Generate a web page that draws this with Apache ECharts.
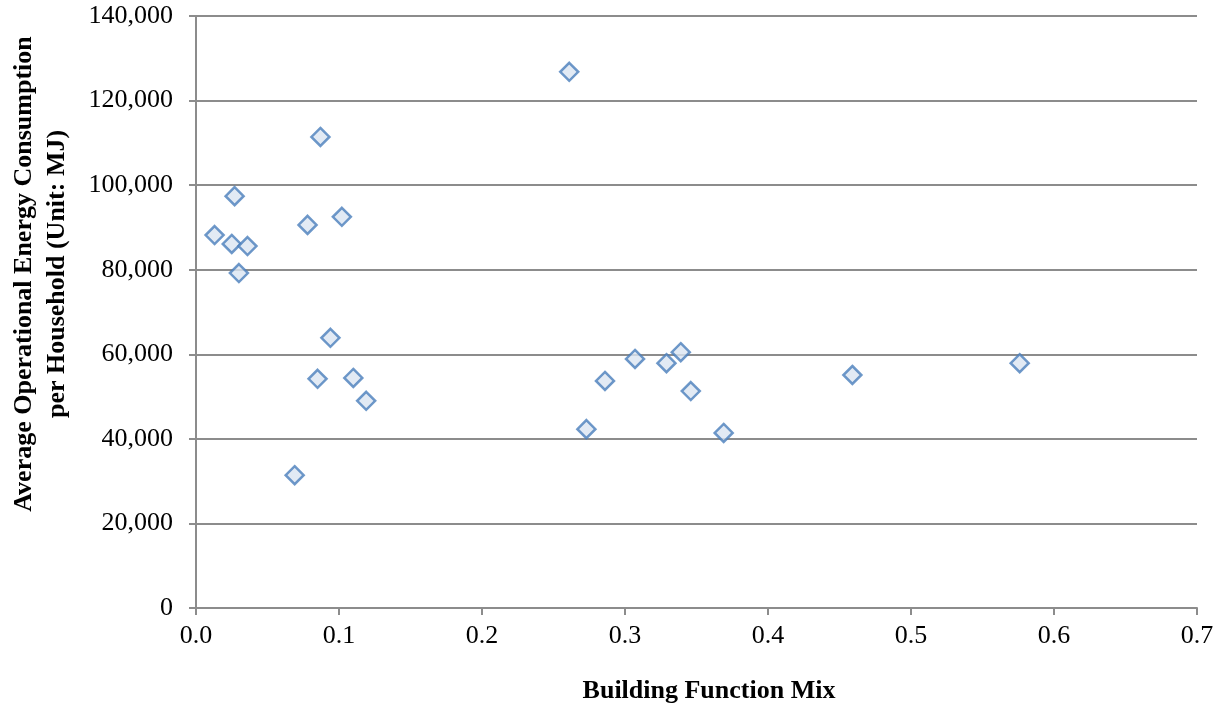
<!DOCTYPE html>
<html>
<head>
<meta charset="utf-8">
<script src="https://cdn.jsdelivr.net/npm/echarts@6/dist/echarts.min.js"></script>
<style>
  html, body { margin: 0; padding: 0; background: #fff; }
  #chart { width: 1225px; height: 710px; }
</style>
</head>
<body>
<div id="chart"></div>
<script>
// building function mix (x) vs avg operational energy per household (y, MJ)
const mixValues = [0.013, 0.025, 0.027, 0.030, 0.036, 0.069, 0.078, 0.087, 0.085, 0.094,
  0.102, 0.110, 0.119, 0.261, 0.273, 0.286, 0.307, 0.329, 0.339, 0.346, 0.369, 0.459, 0.576]
const energyValues = [88200, 86100, 97400, 79200, 85600, 31400, 90600, 111400, 54200, 63900,
  92500, 54400, 49000, 126800, 42300, 53700, 58900, 57900, 60500, 51300, 41400, 55100, 57900]

const xTitle = 'Building Function Mix'
const yTitle = ['Average Operational Energy Consumption', 'per Household (Unit: MJ)']

const font = '"Liberation Serif", "Times New Roman", serif'
const gridColor = '#8c8c8c'

const chart = echarts.init(document.getElementById('chart'))

const option = {
    animation: false,
    textStyle: { fontFamily: font },
    grid: { left: 196, right: 28, top: 16, bottom: 102, containLabel: false },
    xAxis: {
        type: 'value',
        min: 0,
        max: 0.7,
        interval: 0.1,
        axisLine: { show: true, onZero: false, lineStyle: { color: gridColor, width: 2 } },
        axisTick: { show: true, length: 7, lineStyle: { color: gridColor, width: 2 } },
        axisLabel: {
            color: '#000', fontSize: 26, fontFamily: font, margin: 15,
            formatter: v => v.toFixed(1)
        },
        splitLine: { show: false }
    },
    yAxis: {
        type: 'value',
        min: 0,
        max: 140000,
        interval: 20000,
        axisLine: { show: true, lineStyle: { color: gridColor, width: 2 } },
        axisTick: { show: true, length: 7, lineStyle: { color: gridColor, width: 2 } },
        axisLabel: {
            color: '#000', fontSize: 26, fontFamily: font, margin: 23,
            formatter: v => v.toLocaleString('en-US')
        },
        splitLine: { show: true, lineStyle: { color: gridColor, width: 2 } }
    },
    graphic: [
        {
            type: 'text',
            x: 709,
            y: 691,
            style: {
                text: xTitle, font: 'bold 26px ' + font, fill: '#000',
                align: 'center', verticalAlign: 'middle'
            }
        },
        {
            type: 'text',
            x: 24,
            y: 274,
            rotation: Math.PI / 2,
            style: {
                text: yTitle[0], font: 'bold 26px ' + font, fill: '#000',
                align: 'center', verticalAlign: 'middle'
            }
        },
        {
            type: 'text',
            x: 57,
            y: 274,
            rotation: Math.PI / 2,
            style: {
                text: yTitle[1], font: 'bold 26px ' + font, fill: '#000',
                align: 'center', verticalAlign: 'middle'
            }
        }
    ],
    series: [
        {
            type: 'scatter',
            symbol: 'diamond',
            symbolSize: 18,
            itemStyle: { color: '#dbe5f1', borderColor: '#4a7ebb', borderWidth: 2.5 },
            data: mixValues.map((x, i) => [x, energyValues[i]])
        }
    ]
}

chart.setOption(option)
</script>
</body>
</html>
